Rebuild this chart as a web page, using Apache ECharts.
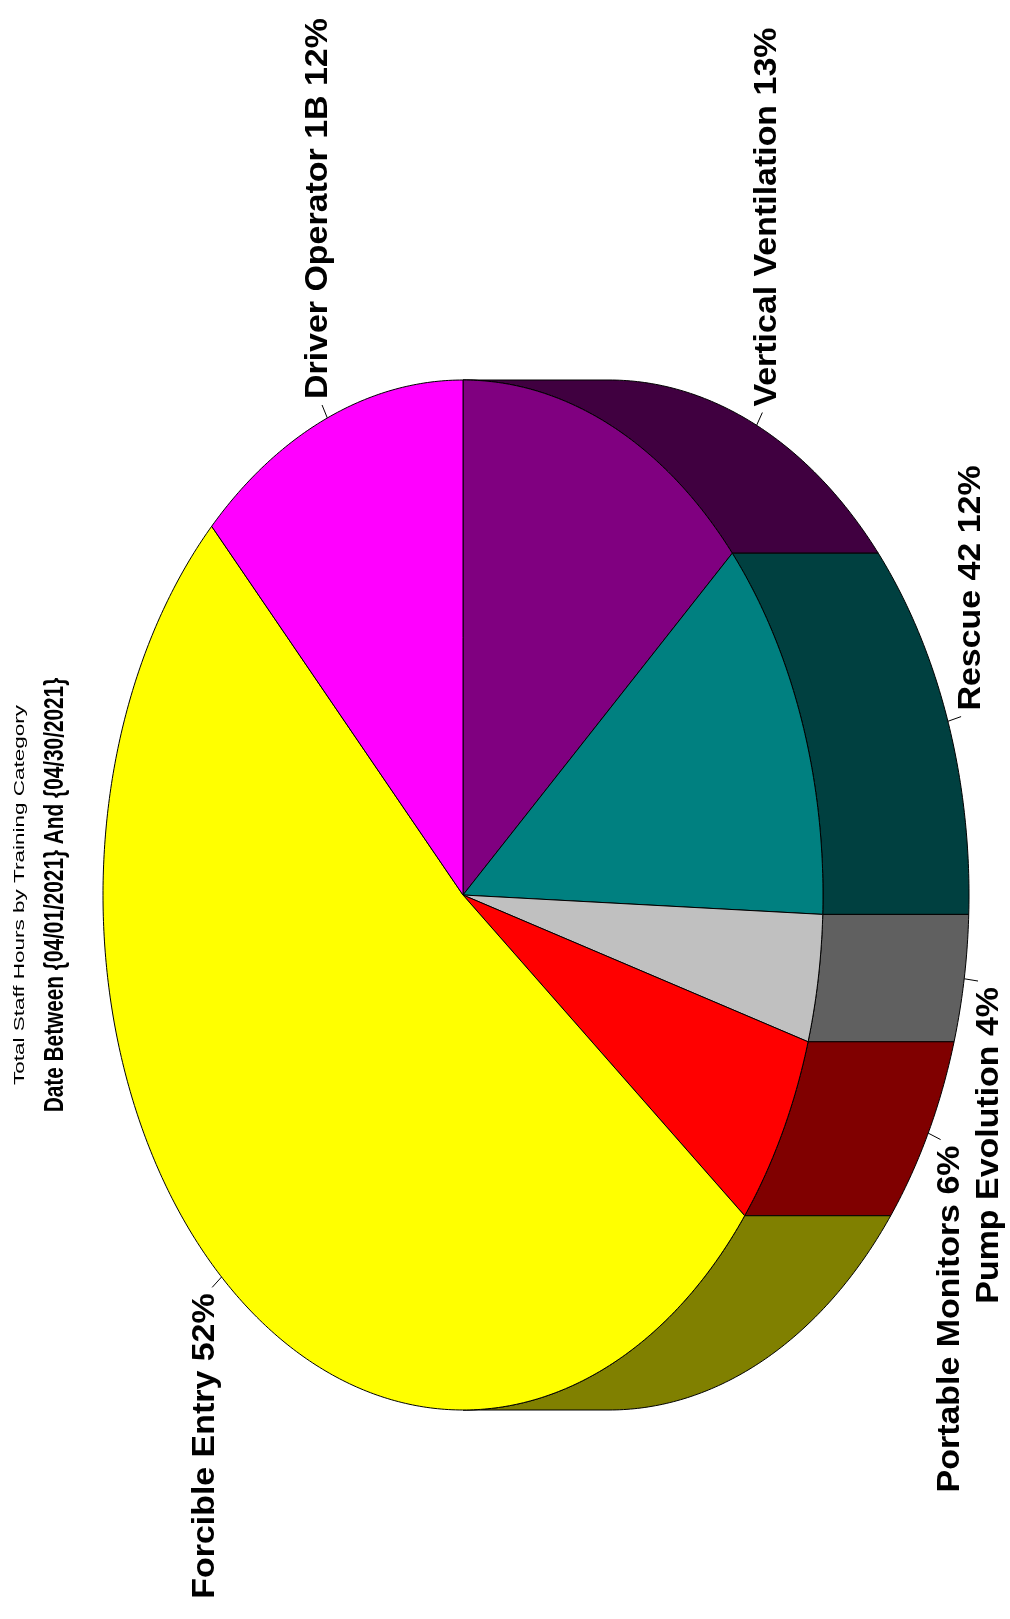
<!DOCTYPE html>
<html><head><meta charset="utf-8">
<script src="https://cdn.jsdelivr.net/npm/echarts@6/dist/echarts.min.js"></script>
<style>html,body{margin:0;padding:0;background:#fff;}#chart{width:1010px;height:1619px;}</style>
</head><body><div id="chart"></div>
<script>
// ---- data ----
const categories = ['Vertical Ventilation', 'Rescue 42', 'Pump Evolution', 'Portable Monitors', 'Forcible Entry', 'Driver Operator 1B'];
const values = [13.45, 12.15, 4.0, 6.1, 52.0, 12.3];
const titleLines = ['Total Staff Hours by Training Category', 'Date Between {04/01/2021} And {04/30/2021}'];
// ---- styles ----
const topColors = ['#800080', '#008080', '#c0c0c0', '#ff0000', '#ffff00', '#ff00ff'];
const sideColors = ['#400040', '#004040', '#606060', '#800000', '#808000', '#800080'];
const FONT = '"Liberation Sans", Arial, sans-serif';
// layout (chart is drawn rotated 90deg counter-clockwise)
const L = { cx: 463, cy: 895, rAlong: 515, rAcross: 360, depth: 146, leader: 14, gap: 6, textShift: 11 };

const total = values.reduce((a, b) => a + b, 0);
const starts = [];
{ let acc = 0; values.forEach(v => { starts.push(acc / total * 2 * Math.PI); acc += v; }); }

function pt(t, d) { return [L.cx + L.rAcross * Math.sin(t) + d, L.cy - L.rAlong * Math.cos(t)]; }
function arc(a, b, d) {
  const n = Math.max(2, Math.ceil(Math.abs(b - a) / 0.01));
  const out = [];
  for (let k = 0; k <= n; k++) out.push(pt(a + (b - a) * k / n, d));
  return out;
}

function renderItem(params, api) {
  const i = params.dataIndex;
  const v = api.value(0);
  const a0 = starts[i];
  const a1 = a0 + v / total * 2 * Math.PI;
  const children = [];
  // front wall (visible for angles 0..PI)
  const s = Math.max(a0, 0), e = Math.min(a1, Math.PI);
  if (e > s) {
    const pts = arc(s, e, 0).concat(arc(e, s, L.depth));
    children.push({ type: 'polygon', z2: 1, shape: { points: pts },
      style: { fill: sideColors[i], stroke: '#000', lineWidth: 1 } });
  }
  // top face
  children.push({ type: 'polygon', z2: 5, shape: { points: [[L.cx, L.cy]].concat(arc(a0, a1, 0)) },
    style: { fill: topColors[i], stroke: '#000', lineWidth: 1 } });
  // leader + label
  const m = (a0 + a1) / 2;
  const d = Math.sin(m) > 0 ? L.depth : 0;
  const p = pt(m, d);
  const dir = [Math.sin(m), -Math.cos(m)];
  const q = [p[0] + dir[0] * L.leader, p[1] + dir[1] * L.leader];
  const right = Math.cos(m) >= 0;
  children.push({ type: 'line', z2: 6, shape: { x1: p[0], y1: p[1], x2: q[0], y2: q[1] },
    style: { stroke: '#000', lineWidth: 1 } });
  const pct = Math.round(v / total * 100) + '%';
  children.push({ type: 'text', z2: 7, x: q[0] + L.textShift * Math.sin(m), y: q[1] + (right ? -L.gap : L.gap),
    rotation: Math.PI / 2, scaleX: 1.06,
    style: { text: categories[i] + ' ' + pct, font: 'bold 32px ' + FONT, fill: '#000',
      align: right ? 'left' : 'right', textAlign: right ? 'left' : 'right',
      verticalAlign: 'middle', textVerticalAlign: 'middle' } });
  return { type: 'group', children: children };
}

const chart = echarts.init(document.getElementById('chart'), null, { renderer: 'canvas' });
chart.setOption({
  backgroundColor: '#ffffff',
  animation: false,
  graphic: [
    { type: 'text', x: 20, y: L.cy, rotation: Math.PI / 2, scaleX: 1.5,
      style: { text: titleLines[0], font: 'normal 15px ' + FONT, fill: '#000',
        align: 'center', textAlign: 'center', verticalAlign: 'middle', textVerticalAlign: 'middle' } },
    { type: 'text', x: 56, y: L.cy, rotation: Math.PI / 2, scaleX: 0.77,
      style: { text: titleLines[1], font: 'bold 27px ' + FONT, fill: '#000',
        align: 'center', textAlign: 'center', verticalAlign: 'middle', textVerticalAlign: 'middle' } }
  ],
  series: [{
    type: 'custom',
    coordinateSystem: 'none',
    silent: true,
    renderItem: renderItem,
    data: values
  }]
});
</script>
</body></html>
